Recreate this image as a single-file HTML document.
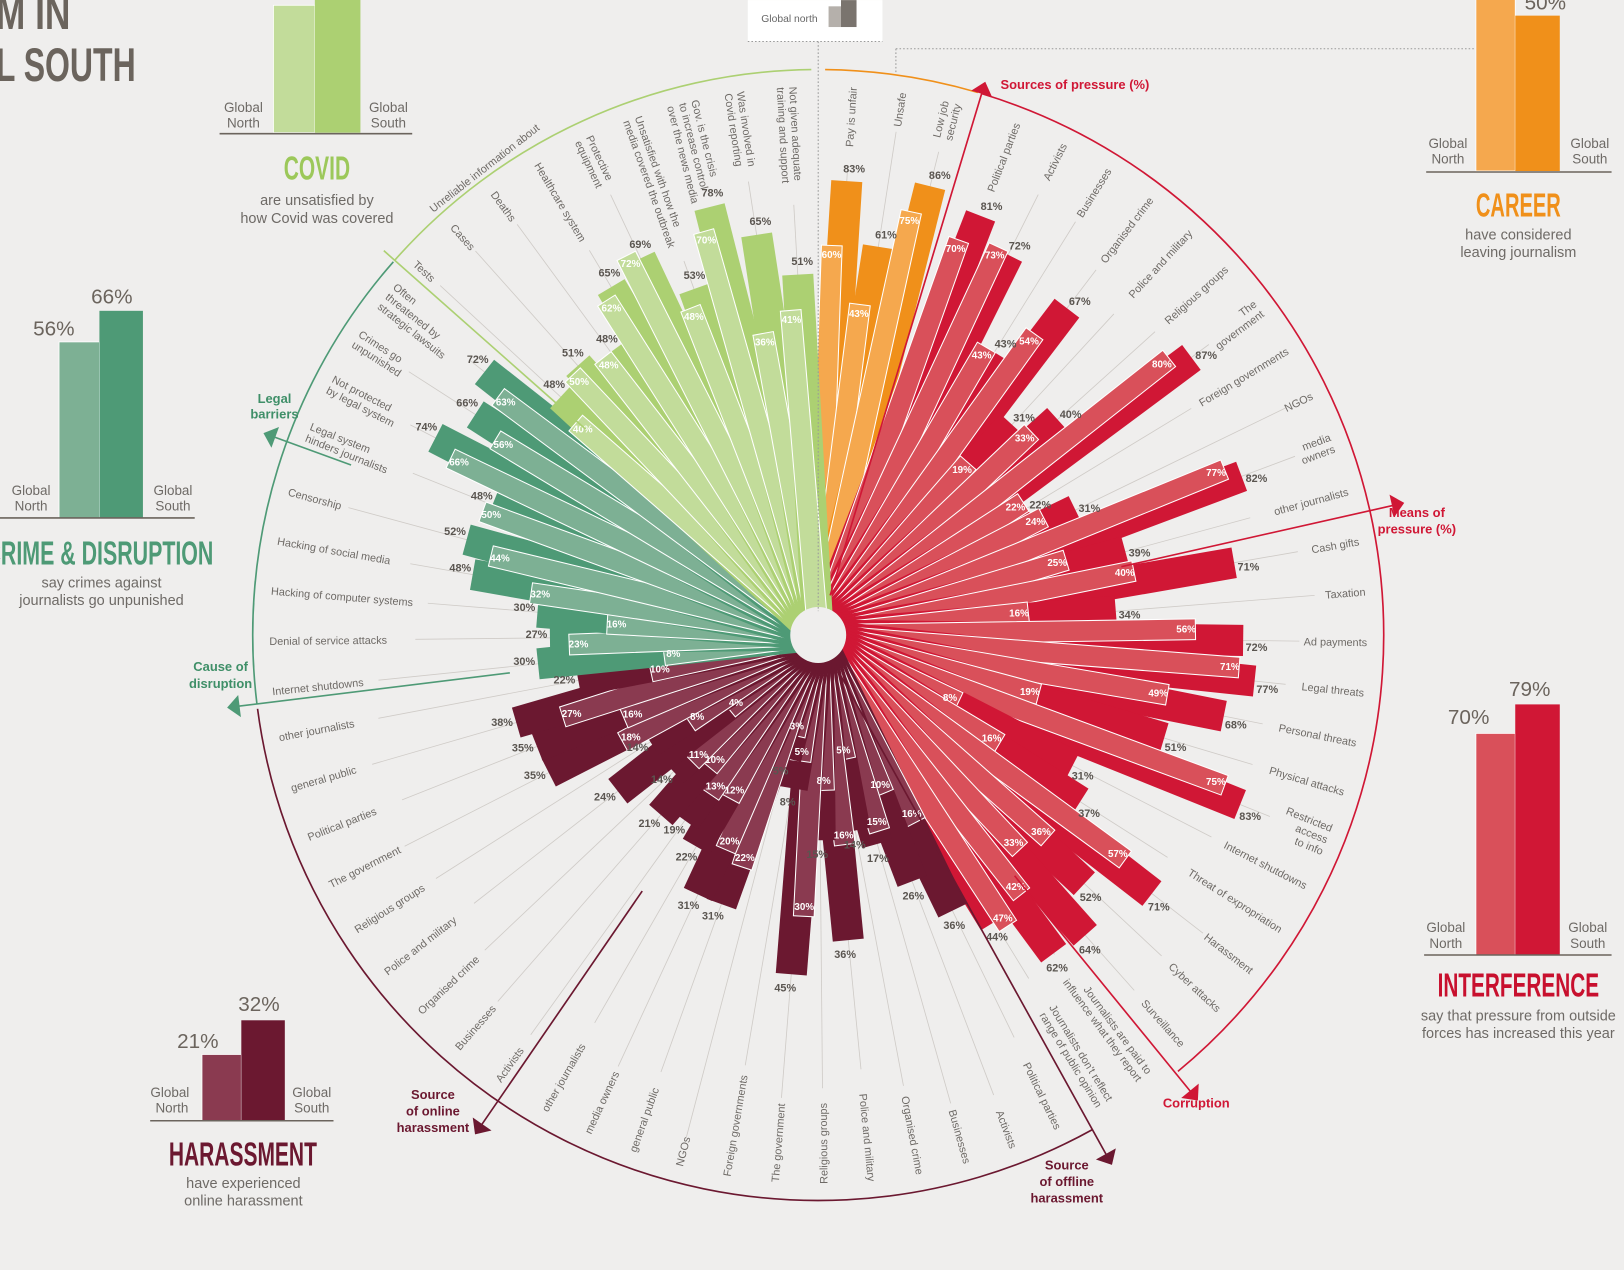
<!DOCTYPE html>
<html><head><meta charset="utf-8">
<style>
html,body{margin:0;padding:0;background:#efeeed;}
svg{display:block;font-family:"Liberation Sans",sans-serif;}
.cat{font-size:10.5px;fill:#6e6a66;}
.val{font-size:10.5px;font-weight:bold;fill:#5a5550;}
.vin{font-size:9.5px;font-weight:bold;fill:#fff;}
.big{font-family:"Liberation Sans Narrow","Liberation Sans",sans-serif;font-weight:bold;}
.gl{font-size:13px;fill:#6e6a66;}
.sub{font-size:14px;fill:#6e6a66;}
</style></head>
<body>
<svg id="chart" width="1624" height="1270" viewBox="0 0 1568 1226" xmlns="http://www.w3.org/2000/svg">
<rect x="0" y="0" width="1568" height="1226" fill="#efeeed"/>
<g id="grid"></g>
<g id="bars"></g>
<g id="labels"></g>
<g id="deco"></g>
<circle cx="790" cy="613" r="27" fill="#efeeed"/>

<!-- title fragment -->
<text x="-4" y="28" class="big" font-size="46" fill="#6b645d" textLength="72" lengthAdjust="spacingAndGlyphs">M IN</text>
<text x="-4" y="78" class="big" font-size="46" fill="#6b645d" textLength="135" lengthAdjust="spacingAndGlyphs">L SOUTH</text>

<!-- global north legend box -->
<g>
<rect x="722" y="0" width="130" height="40" fill="#fff"/>
<text x="735" y="21" font-size="10" fill="#666">Global north</text>
<rect x="800" y="6" width="12" height="20" fill="#b5b0ab"/>
<rect x="812" y="0" width="15" height="26" fill="#7a746e"/>
<line x1="722" y1="40" x2="852" y2="40" stroke="#999" stroke-dasharray="1.5,2"/>
<line x1="790" y1="40" x2="790" y2="590" stroke="#999" stroke-dasharray="1.5,2"/>
<line x1="865" y1="47" x2="1425" y2="47" stroke="#999" stroke-dasharray="1.5,2"/>
<line x1="865" y1="47" x2="865" y2="70" stroke="#999" stroke-dasharray="1.5,2"/>
</g>

<!-- COVID panel -->
<g>
<rect x="264" y="5" width="40" height="123" fill="#c2dc9a" stroke="#fff" stroke-width="0.8"/>
<rect x="304" y="-5" width="44" height="133" fill="#acd072"/>
<line x1="212" y1="129" x2="398" y2="129" stroke="#6b645d" stroke-width="1.5"/>
<text x="235" y="108" class="gl" text-anchor="middle">Global</text><text x="235" y="123" class="gl" text-anchor="middle">North</text>
<text x="375" y="108" class="gl" text-anchor="middle">Global</text><text x="375" y="123" class="gl" text-anchor="middle">South</text>
<text x="274" y="173" class="big" font-size="32" fill="#9cc85a" textLength="64" lengthAdjust="spacingAndGlyphs">COVID</text>
<text x="306" y="198" class="sub" text-anchor="middle">are unsatisfied by</text>
<text x="306" y="215" class="sub" text-anchor="middle">how Covid was covered</text>
</g>

<!-- CAREER panel -->
<g>
<rect x="1425" y="-5" width="38" height="170" fill="#f5a84e" stroke="#fff" stroke-width="0.8"/>
<rect x="1463" y="15" width="43" height="150" fill="#f0901a"/>
<text x="1492" y="9" font-size="20" fill="#6b645d" text-anchor="middle">50%</text>
<line x1="1377" y1="166" x2="1556" y2="166" stroke="#6b645d" stroke-width="1.5"/>
<text x="1398" y="143" class="gl" text-anchor="middle">Global</text><text x="1398" y="158" class="gl" text-anchor="middle">North</text>
<text x="1535" y="143" class="gl" text-anchor="middle">Global</text><text x="1535" y="158" class="gl" text-anchor="middle">South</text>
<text x="1425" y="209" class="big" font-size="32" fill="#f0901a" textLength="82" lengthAdjust="spacingAndGlyphs">CAREER</text>
<text x="1466" y="231" class="sub" text-anchor="middle">have considered</text>
<text x="1466" y="248" class="sub" text-anchor="middle">leaving journalism</text>
</g>

<!-- CRIME panel -->
<g>
<rect x="57" y="330" width="39" height="170" fill="#7db094" stroke="#fff" stroke-width="0.8"/>
<rect x="96" y="300" width="42" height="200" fill="#4e9a76"/>
<text x="52" y="324" font-size="20" fill="#6b645d" text-anchor="middle">56%</text>
<text x="108" y="293" font-size="20" fill="#6b645d" text-anchor="middle">66%</text>
<line x1="0" y1="500" x2="188" y2="500" stroke="#6b645d" stroke-width="1.5"/>
<text x="30" y="478" class="gl" text-anchor="middle">Global</text><text x="30" y="493" class="gl" text-anchor="middle">North</text>
<text x="167" y="478" class="gl" text-anchor="middle">Global</text><text x="167" y="493" class="gl" text-anchor="middle">South</text>
<text x="-14" y="545" class="big" font-size="32" fill="#4e9a76" textLength="220" lengthAdjust="spacingAndGlyphs">CRIME &amp; DISRUPTION</text>
<text x="98" y="567" class="sub" text-anchor="middle">say crimes against</text>
<text x="98" y="584" class="sub" text-anchor="middle">journalists go unpunished</text>
</g>

<!-- HARASSMENT panel -->
<g>
<rect x="195" y="1018" width="38" height="64" fill="#8a3a50" stroke="#fff" stroke-width="0.8"/>
<rect x="233" y="985" width="42" height="97" fill="#6b1830"/>
<text x="191" y="1012" font-size="20" fill="#6b645d" text-anchor="middle">21%</text>
<text x="250" y="976" font-size="20" fill="#6b645d" text-anchor="middle">32%</text>
<line x1="145" y1="1082" x2="322" y2="1082" stroke="#6b645d" stroke-width="1.5"/>
<text x="164" y="1059" class="gl" text-anchor="middle">Global</text><text x="166" y="1074" class="gl" text-anchor="middle">North</text>
<text x="301" y="1059" class="gl" text-anchor="middle">Global</text><text x="301" y="1074" class="gl" text-anchor="middle">South</text>
<text x="163" y="1125" class="big" font-size="32" fill="#6b1830" textLength="143" lengthAdjust="spacingAndGlyphs">HARASSMENT</text>
<text x="235" y="1147" class="sub" text-anchor="middle">have experienced</text>
<text x="235" y="1164" class="sub" text-anchor="middle">online harassment</text>
</g>

<!-- INTERFERENCE panel -->
<g>
<rect x="1425" y="708" width="38" height="214" fill="#d9505a" stroke="#fff" stroke-width="0.8"/>
<rect x="1463" y="680" width="43" height="242" fill="#d01735"/>
<text x="1418" y="699" font-size="20" fill="#6b645d" text-anchor="middle">70%</text>
<text x="1477" y="672" font-size="20" fill="#6b645d" text-anchor="middle">79%</text>
<line x1="1375" y1="922" x2="1556" y2="922" stroke="#6b645d" stroke-width="1.5"/>
<text x="1396" y="900" class="gl" text-anchor="middle">Global</text><text x="1396" y="915" class="gl" text-anchor="middle">North</text>
<text x="1533" y="900" class="gl" text-anchor="middle">Global</text><text x="1533" y="915" class="gl" text-anchor="middle">South</text>
<text x="1388" y="962" class="big" font-size="32" fill="#c8102e" textLength="156" lengthAdjust="spacingAndGlyphs">INTERFERENCE</text>
<text x="1466" y="985" class="sub" text-anchor="middle">say that pressure from outside</text>
<text x="1466" y="1002" class="sub" text-anchor="middle">forces has increased this year</text>
</g>

<!-- section titles -->
<g>
<text x="966" y="86" font-size="12.5" font-weight="bold" fill="#d01735">Sources of pressure (%)</text>
<text x="1368" y="499" font-size="12.5" font-weight="bold" fill="#d01735" text-anchor="middle">Means of</text>
<text x="1368" y="515" font-size="12.5" font-weight="bold" fill="#d01735" text-anchor="middle">pressure (%)</text>
<text x="1155" y="1069" font-size="12.5" font-weight="bold" fill="#d01735" text-anchor="middle">Corruption</text>
<text x="1030" y="1129" font-size="12.5" font-weight="bold" fill="#6b1830" text-anchor="middle">Source</text>
<text x="1030" y="1145" font-size="12.5" font-weight="bold" fill="#6b1830" text-anchor="middle">of offline</text>
<text x="1030" y="1161" font-size="12.5" font-weight="bold" fill="#6b1830" text-anchor="middle">harassment</text>
<text x="418" y="1061" font-size="12.5" font-weight="bold" fill="#6b1830" text-anchor="middle">Source</text>
<text x="418" y="1077" font-size="12.5" font-weight="bold" fill="#6b1830" text-anchor="middle">of online</text>
<text x="418" y="1093" font-size="12.5" font-weight="bold" fill="#6b1830" text-anchor="middle">harassment</text>
<text x="265" y="389" font-size="12.5" font-weight="bold" fill="#3f8f68" text-anchor="middle">Legal</text>
<text x="265" y="404" font-size="12.5" font-weight="bold" fill="#3f8f68" text-anchor="middle">barriers</text>
<text x="213" y="648" font-size="12.5" font-weight="bold" fill="#3f8f68" text-anchor="middle">Cause of</text>
<text x="213" y="664" font-size="12.5" font-weight="bold" fill="#3f8f68" text-anchor="middle">disruption</text>
<text x="470" y="165" class="cat" transform="rotate(-38 470 165)" text-anchor="middle">Unreliable information about</text>
</g>
</svg>
<script>
// ---- data ----
const careerCats = ["Pay is unfair","Unsafe","Low job|security"];
const careerNorth = [60,43,75];
const careerSouth = [83,61,86];
const sourceCats = ["Political parties","Activists","Businesses","Organised crime","Police and military","Religious groups","The|government","Foreign governments","NGOs","media|owners","other journalists"];
const sourceNorth = [70,73,43,54,19,33,80,22,24,77,25];
const sourceSouth = [81,72,43,67,31,40,87,22,31,82,39];
const meansCats = ["Cash gifts","Taxation","Ad payments","Legal threats","Personal threats","Physical attacks","Restricted|access|to info","Internet shutdowns","Threat of expropriation","Harassment","Cyber attacks","Surveillance"];
const meansNorth = [40,16,56,71,49,19,75,8,16,57,36,33];
const meansSouth = [71,34,72,77,68,51,83,31,37,71,52,64];
const corruptCats = ["Journalists are paid to|influence what they report","Journalists don't reflect|range of public opinion"];
const corruptNorth = [42,47];
const corruptSouth = [62,44];
const offlineCats = ["Political parties","Activists","Businesses","Organised crime","Police and military","Religious groups","The government","Foreign governments","NGOs","general public","media owners","other journalists"];
const offlineNorth = [16,10,15,5,16,8,30,5,3,22,20,12];
const offlineSouth = [36,26,17,14,36,15,45,8,5,31,31,22];
const onlineCats = ["Activists","Businesses","Organised crime","Police and military","Religious groups","The government","Political parties","general public","other journalists"];
const onlineNorth = [13,10,11,4,8,18,16,27,10];
const onlineSouth = [19,21,14,24,14,35,35,38,22];
const crimeCats = ["Internet shutdowns","Denial of service attacks","Hacking of computer systems","Hacking of social media","Censorship"];
const crimeNorth = [8,23,16,32,44];
const crimeSouth = [30,27,30,48,52];
const legalCats = ["Legal system|hinders journalists","Not protected|by legal system","Crimes go|unpunished","Often|threatened by|strategic lawsuits"];
const legalNorth = [50,66,56,63];
const legalSouth = [48,74,66,72];
const covidCats = ["Tests","Cases","Deaths","Healthcare system","Protective|equipment","Unsatisfied with how the|media covered the outbreak","Gov. is the crisis|to increase control|over the news media","Was involved in|Covid reporting","Not given adequate|training and support"];
const covidNorth = [40,50,48,62,72,48,70,36,41];
const covidSouth = [48,51,48,65,69,53,78,65,51];

// ---- layout ----
const CX=790, CY=613, RLAB=530, RARC=546;
const sections = [
 {key:"career", cats:careerCats, n:careerNorth, s:careerSouth, a0:1, a1:16.6, dark:"#f0901a", light:"#f5a84e"},
 {key:"sources", cats:sourceCats, n:sourceNorth, s:sourceSouth, a0:18.5, a1:77.5, dark:"#d01735", light:"#d9505a"},
 {key:"means", cats:meansCats, n:meansNorth, s:meansSouth, a0:77.5, a1:141, dark:"#d01735", light:"#d9505a"},
 {key:"corruption", cats:corruptCats, n:corruptNorth, s:corruptSouth, a0:141, a1:151, dark:"#d01735", light:"#d9505a"},
 {key:"offline", cats:offlineCats, n:offlineNorth, s:offlineSouth, a0:151.5, a1:212.5, dark:"#6b1830", light:"#8a3a50"},
 {key:"online", cats:onlineCats, n:onlineNorth, s:onlineSouth, a0:213, a1:262, dark:"#6b1830", light:"#8a3a50"},
 {key:"crime", cats:crimeCats, n:crimeNorth, s:crimeSouth, a0:261.5, a1:287.8, dark:"#4e9a76", light:"#7db094"},
 {key:"legal", cats:legalCats, n:legalNorth, s:legalSouth, a0:289, a1:311, dark:"#4e9a76", light:"#7db094"},
 {key:"covid", cats:covidCats, n:covidNorth, s:covidSouth, a0:310, a1:359.5, dark:"#acd072", light:"#c2dc9a"}
];
const NS="http://www.w3.org/2000/svg";
function rScale(p){ return 20 + 46*Math.sqrt(p); }
function pt(a,r){ const t=a*Math.PI/180; return [CX+r*Math.sin(t), CY-r*Math.cos(t)]; }
function mk(tag,attrs,parent){ const e=document.createElementNS(NS,tag); for(const k in attrs) e.setAttribute(k,attrs[k]); parent.appendChild(e); return e; }
const gGrid=document.getElementById('grid'), gBars=document.getElementById('bars'), gLab=document.getElementById('labels'), gDeco=document.getElementById('deco');

sections.forEach(sec=>{
  const k=sec.cats.length, step=(sec.a1-sec.a0)/k;
  sec.cats.forEach((cat,i)=>{
    const a=sec.a0+(i+0.5)*step;
    const lines=cat.split('|');
    const maxLen=Math.max(...lines.map(l=>l.length));
    const tw=maxLen*5.4;
    const p1=pt(a,35), p2=pt(a,RLAB-tw-6);
    const gl=mk('line',{x1:p1[0],y1:p1[1],x2:p2[0],y2:p2[1],stroke:'#cfcbc7','stroke-width':0.8},gGrid);
    
    
    const Ls=rScale(sec.s[i]), Ln=rScale(sec.n[i]);
    const bs=mk('rect',{x:-15,y:-Ls,width:30,height:Ls,fill:sec.dark,transform:`translate(${CX},${CY}) rotate(${a})`},gBars);
    
    
    const bn=mk('rect',{x:-10,y:-Ln,width:20,height:Ln,fill:sec.light,stroke:'#fff','stroke-width':1,transform:`translate(${CX},${CY}) rotate(${a-1.6})`},gBars);
    
    
    const ps=pt(a+0.8,Ls+13);
    const vs=mk('text',{x:ps[0],y:ps[1]+4,class:'val','text-anchor':'middle'},gLab);
    vs.textContent=sec.s[i]+'%';
    
    
    const pn=pt(a-1.6,Ln-9);
    const vn=mk('text',{x:pn[0],y:pn[1]+3,class:'vin','text-anchor':'middle'},gLab);
    vn.textContent=sec.n[i]+'%';
    
    
    const right=(a>0 && a<178);
    const rot=right? a-90 : a+90;
    const g=mk('g',{transform:`translate(${CX},${CY}) rotate(${rot})`},gLab);
    
    
    lines.forEach((ln,j)=>{
      const off=(j-(lines.length-1)/2)*12;
      const t=mk('text',{x:right?RLAB:-RLAB,y:off+4,class:'cat','text-anchor':right?'end':'start'},g);
      t.textContent=ln;
    });
  });
});

function arc(a0,a1,color){
  const p0=pt(a0,RARC), p1=pt(a1,RARC);
  const large=(a1-a0)>180?1:0;
  const e=mk('path',{d:`M${p0[0]},${p0[1]} A${RARC},${RARC} 0 ${large} 1 ${p1[0]},${p1[1]}`,fill:'none',stroke:color,'stroke-width':1.6},gDeco);
  
  
}
function divider(a,r0,r1,color,arrow){
  const p0=pt(a,r0), p1=pt(a,r1);
  const e=mk('line',{x1:p0[0],y1:p0[1],x2:p1[0],y2:p1[1],stroke:color,'stroke-width':1.6},gDeco);
  
  
  if(arrow){
    const tip=pt(a,r1+10), l=pt(a-1.1,r1-2), r=pt(a+1.1,r1-2);
    const h=mk('polygon',{points:`${tip[0]},${tip[1]} ${l[0]},${l[1]} ${r[0]},${r[1]}`,fill:color},gDeco);
    
    
  }
}
arc(311.5,359.3,'#acd072');
arc(0.7,16.4,'#f0901a');
arc(16.8,140.5,'#d01735');
arc(151,262.5,'#6b1830');
arc(263,311.3,'#4e9a76');
divider(311.5,300,560,'#acd072',false);
divider(16.8,40,548,'#d01735',true);
divider(77.3,300,570,'#d01735',true);
divider(140.8,300,570,'#d01735',true);
divider(151,40,575,'#6b1830',true);
divider(214.5,300,575,'#6b1830',true);
divider(263,300,565,'#4e9a76',true);
divider(290,480,560,'#4e9a76',true);
</script>
</body></html>
